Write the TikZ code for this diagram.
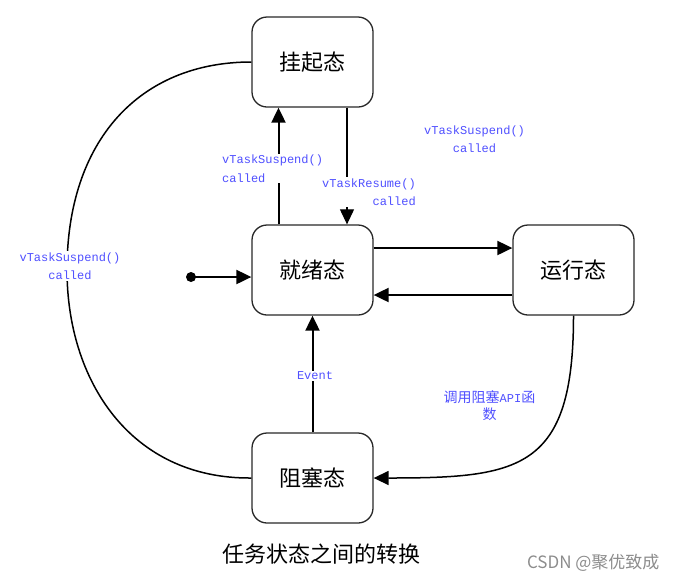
\documentclass[tikz,border=0pt]{standalone}
\usepackage{fontspec}
\newfontfamily\cjk{Noto Sans CJK SC}
\newfontfamily\monofont{Liberation Mono}
\usetikzlibrary{arrows.meta}
\definecolor{lblue}{RGB}{80,80,255}
\definecolor{boxline}{RGB}{40,40,40}
\begin{document}
\begin{tikzpicture}[x=1pt,y=-1pt,
  state/.style={draw=boxline,line width=1.3pt,rounded corners=15pt,minimum width=121pt,minimum height=90pt,inner sep=0pt,font=\cjk\fontsize{22}{24}\selectfont},
  conn/.style={line width=2pt,-{Triangle[length=15pt,width=14pt]}},
  thinconn/.style={line width=1.1pt,-{Triangle[length=15pt,width=14pt]}},
  curv/.style={line width=1.5pt},
  lbl/.style={text=lblue,fill=white,inner sep=1pt,font=\monofont\fontsize{12}{18.5}\selectfont},
  cjklbl/.style={text=lblue,fill=white,inner sep=1pt,font=\cjk\fontsize{14}{17}\selectfont}
]
\useasboundingbox (0,0) rectangle (676,582);
\node[state] (susp) at (312.5,62) {挂起态};
\node[state] (ready) at (312.5,270) {就绪态};
\node[state] (run) at (573.5,270) {运行态};
\node[state] (block) at (312.5,478) {阻塞态};
\fill (191,277) circle (5pt);
\coordinate (initpt) at (191,277);

\draw[conn] ([xshift=-34pt]ready.north) -- ([xshift=-34pt]susp.south);
\draw[thinconn] ([xshift=34.5pt]susp.south) -- ([xshift=34.5pt]ready.north);
\draw[conn] ([yshift=22pt]ready.east) -- ([yshift=22pt]run.west);
\draw[conn] ([yshift=-25pt]run.west) -- ([yshift=-25pt]ready.west -| ready.east);
\draw[conn] (block.north) -- (ready.south);
\draw[conn] (initpt) -- (initpt -| ready.west);
\draw[curv,-{Triangle[length=15pt,width=14pt]}] (run.south) .. controls (573.5,470) and (520,478) .. (block.east);
\draw[curv] (block.west) .. controls (130,479) and (67,380) .. (67,270) .. controls (67,140) and (140,62) .. (susp.west);

\node[lbl,anchor=west,align=left] (l1) at (221,168.5) {vTaskSuspend()\\called};
\node[lbl,anchor=east,align=right] (l2) at (417,192) {vTaskResume()\\called};
\node[lbl,align=center] (l3) at (474.5,139) {vTaskSuspend()\\called};
\node[lbl,align=center] (l4) at (70,266) {vTaskSuspend()\\called};
\node[lbl] (l5) at (315,376) {Event};
\node[cjklbl,align=center] (l6) at (489.5,405.5) {调用阻塞{\monofont\fontsize{12}{17}\selectfont API}函\\数};
\node[font=\cjk\fontsize{22}{24}\selectfont] (cap) at (321,554) {任务状态之间的转换};
\node[font=\cjk\fontsize{17}{19}\selectfont,text=black!45,anchor=east] (wm) at (663,563) {CSDN @聚优致成};
\end{tikzpicture}
\end{document}
